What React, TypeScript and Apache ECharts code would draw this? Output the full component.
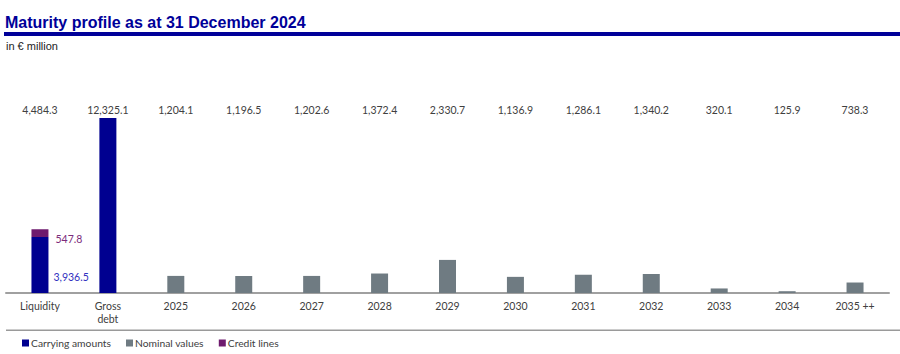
import React, { useEffect, useRef } from "react";
import * as echarts from "echarts";

const categories = ["Liquidity", "Gross\ndebt", "2025", "2026", "2027", "2028", "2029", "2030", "2031", "2032", "2033", "2034", "2035 ++"];
const carryingAmounts: (number | null)[] = [3936.5, 12325.1, null, null, null, null, null, null, null, null, null, null, null];
const creditLines: (number | null)[] = [547.8, null, null, null, null, null, null, null, null, null, null, null, null];
const nominalValues: (number | null)[] = [null, null, 1204.1, 1196.5, 1202.6, 1372.4, 2330.7, 1136.9, 1286.1, 1340.2, 320.1, 125.9, 738.3];

const fmt = (v: number) =>
  v.toLocaleString("en-US", { minimumFractionDigits: 1, maximumFractionDigits: 1 });

const totals = categories.map(
  (_, i) => (carryingAmounts[i] || 0) + (creditLines[i] || 0) + (nominalValues[i] || 0)
);

const FONT = "Lato";
const BLUE = "#000090";
const GRAY = "#6F7B82";
const PURPLE = "#6E1A6E";

export default function App() {
  const ref = useRef<HTMLDivElement>(null);
  useEffect(() => {
    if (!ref.current) return;
    const chart = echarts.init(ref.current, undefined, { renderer: "svg" });
    const carryingData = carryingAmounts.map((v, i) =>
      i === 0 && v != null
        ? {
            value: v,
            label: {
              show: true,
              position: "right",
              distance: 5,
              offset: [0, 12],
              color: "#3030C0",
              fontFamily: FONT,
              fontSize: 10.5,
              formatter: (p: any) => fmt(p.value),
            },
          }
        : v
    );
    const creditData = creditLines.map((v) =>
      v != null
        ? {
            value: v,
            label: {
              show: true,
              position: "right",
              distance: 7,
              offset: [0, 6],
              color: "#7B2C7B",
              fontFamily: FONT,
              fontSize: 10.5,
              formatter: (p: any) => fmt(p.value),
            },
          }
        : v
    );
    chart.setOption({
      animation: false,
      title: {
        text: "Maturity profile as at 31 December 2024",
        left: 0,
        top: 9,
        textStyle: {
          fontFamily: "Liberation Sans",
          fontWeight: "bold",
          fontSize: 16,
          color: "#000099",
        },
      },
      graphic: [
        { type: "rect", shape: { x: 4, y: 32, width: 896, height: 4 }, style: { fill: "#000099" } },
        {
          type: "text",
          x: 6,
          y: 46,
          style: {
            text: "in € million",
            font: "11px 'Liberation Sans'",
            fill: "#222",
            verticalAlign: "middle",
          },
        },
        { type: "rect", shape: { x: 6, y: 329.5, width: 894, height: 1.5 }, style: { fill: "#9a9a9a" } },
      ],
      legend: {
        left: 17,
        top: 333,
        itemWidth: 7,
        itemHeight: 7,
        itemGap: 15,
        icon: "rect",
        data: ["Carrying amounts", "Nominal values", "Credit lines"],
        textStyle: { color: "#404040", fontFamily: FONT, fontSize: 10.3, padding: [0, 0, 0, -3] },
      },
      grid: { left: 6, right: 11, top: 118, bottom: 61, containLabel: false },
      xAxis: [
        {
          type: "category",
          data: categories,
          axisLine: { lineStyle: { color: "#a0a0a0", width: 2 } },
          axisTick: { show: false },
          axisLabel: { color: "#404040", fontFamily: FONT, fontSize: 10.5, margin: 7, lineHeight: 12.5 },
        },
        {
          type: "category",
          position: "top",
          data: categories,
          axisLine: { show: false },
          axisTick: { show: false },
          axisLabel: {
            color: "#404040",
            fontFamily: FONT,
            fontSize: 10.5,
            margin: 3,
            formatter: (_v: string, i: number) => fmt(totals[i]),
          },
        },
      ],
      yAxis: {
        type: "value",
        min: 0,
        max: 12325.1,
        show: false,
        splitLine: { show: false },
      },
      series: [
        {
          name: "Carrying amounts",
          type: "bar",
          stack: "a",
          barWidth: 17,
          data: carryingData,
          itemStyle: { color: BLUE },
        },
        {
          name: "Credit lines",
          type: "bar",
          stack: "a",
          barWidth: 17,
          data: creditData,
          itemStyle: { color: PURPLE },
        },
        {
          name: "Nominal values",
          type: "bar",
          stack: "a",
          barWidth: 17,
          data: nominalValues,
          itemStyle: { color: GRAY },
        },
      ],
    });
    return () => chart.dispose();
  }, []);
  return (
    <div
      ref={ref}
      style={{ position: "fixed", left: 0, top: 0, width: 900, height: 354, background: "#fff" }}
    />
  );
}
